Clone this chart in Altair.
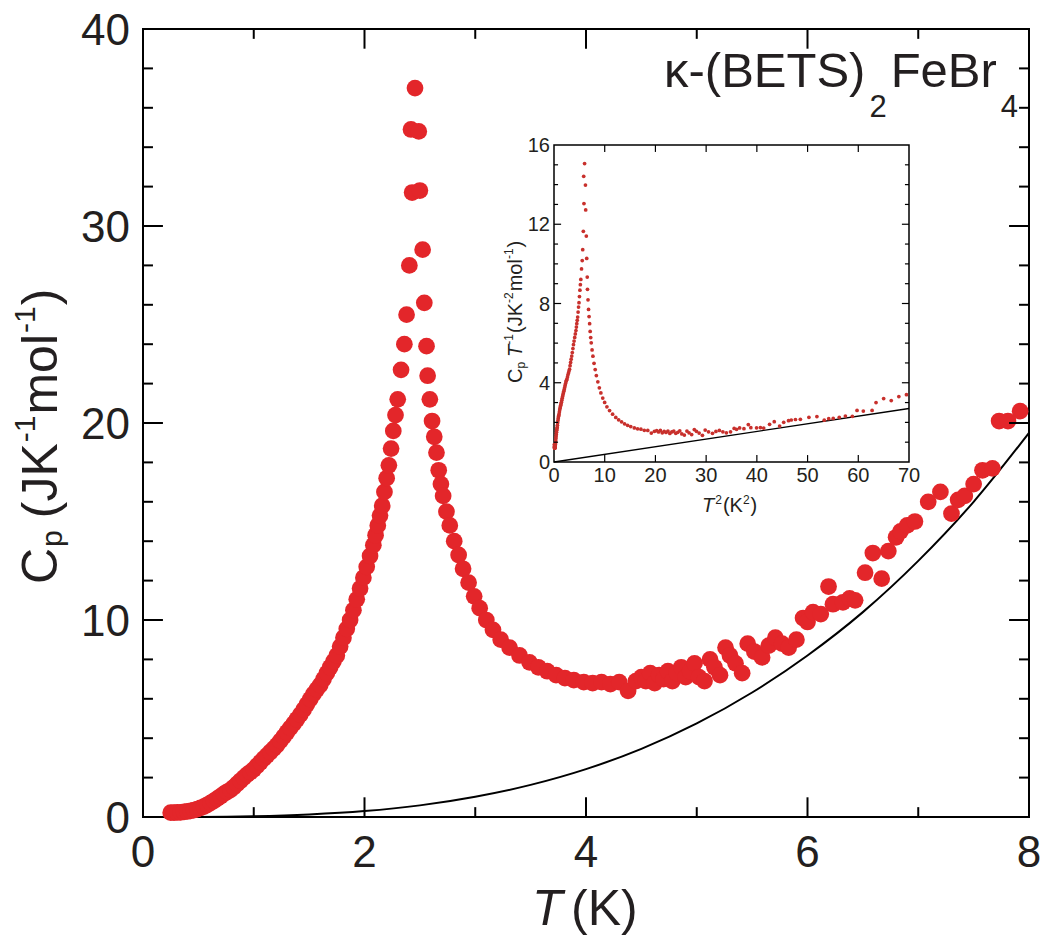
import altair as alt
import pandas as pd

FONT = "Liberation Sans"
TXT = "#231f20"
RED = "#e3262a"
IRED = "#c8302c"

W, H = 886, 788      # main plot area
OX, OY = 143, 29     # plot-area origin on the page

# ---------------- main panel data: T (K), Cp (J K^-1 mol^-1) ----------------
T_rise = [0.25, 0.28, 0.31, 0.34, 0.37, 0.40, 0.43, 0.46, 0.49, 0.52, 0.55, 0.58,
          0.61, 0.64, 0.67, 0.70, 0.73, 0.76, 0.79, 0.82, 0.85, 0.88, 0.91, 0.94,
          0.97, 1.00, 1.03, 1.06, 1.09, 1.12, 1.15, 1.18, 1.21, 1.24, 1.27, 1.30,
          1.33, 1.36, 1.39, 1.42, 1.45, 1.48, 1.51, 1.54, 1.57, 1.60, 1.63, 1.66,
          1.69, 1.72, 1.75, 1.78, 1.81, 1.84, 1.87, 1.90, 1.93, 1.96, 1.99, 2.02,
          2.05, 2.08, 2.10, 2.12, 2.14, 2.16, 2.18, 2.20, 2.22, 2.24, 2.26, 2.28, 2.30]
Cp_rise = [0.22, 0.22, 0.23, 0.24, 0.26, 0.28, 0.31, 0.35, 0.40, 0.46, 0.53, 0.62,
           0.72, 0.82, 0.93, 1.05, 1.17, 1.28, 1.38, 1.52, 1.68, 1.84, 2.00, 2.15,
           2.28, 2.42, 2.60, 2.78, 2.96, 3.13, 3.30, 3.47, 3.65, 3.86, 4.08, 4.30,
           4.52, 4.74, 4.96, 5.20, 5.45, 5.72, 5.98, 6.25, 6.48, 6.70, 7.00, 7.30,
           7.60, 7.90, 8.20, 8.65, 9.10, 9.55, 10.0, 10.5, 11.05, 11.6, 12.15, 12.7,
           13.25, 13.8, 14.3, 14.8, 15.3, 15.8, 16.5, 17.2, 17.85, 18.7, 19.6, 20.4, 21.2]

T_peak = [2.33, 2.36, 2.38, 2.405, 2.43, 2.42, 2.456, 2.49, 2.50, 2.525, 2.54, 2.56, 2.57, 2.59]
Cp_peak = [22.7, 24.0, 25.5, 28.0, 31.7, 34.9, 37.0, 34.8, 31.8, 28.8, 26.1, 23.9, 22.4, 21.2]

T_fall = [2.61, 2.63, 2.65, 2.67, 2.69, 2.71, 2.74, 2.77, 2.81, 2.85, 2.89, 2.94,
          2.99, 3.04, 3.10, 3.16, 3.23, 3.31, 3.40, 3.49, 3.57, 3.65, 3.73, 3.81,
          3.89, 3.98, 4.06, 4.14, 4.22, 4.30, 4.38, 4.45, 4.50]
Cp_fall = [20.1, 19.3, 18.5, 17.6, 16.9, 16.3, 15.5, 14.8, 14.0, 13.3, 12.6, 11.9,
           11.2, 10.6, 10.0, 9.5, 9.0, 8.6, 8.2, 7.85, 7.6, 7.4, 7.2, 7.05,
           6.95, 6.85, 6.8, 6.85, 6.75, 6.85, 6.4, 6.9, 7.1]

T_high = [4.54, 4.58, 4.62, 4.66, 4.70, 4.74, 4.78, 4.82, 4.86, 4.90, 4.94, 4.98,
          5.02, 5.07, 5.12, 5.16, 5.21, 5.26, 5.30, 5.35, 5.41, 5.46, 5.52, 5.59,
          5.65, 5.71, 5.77, 5.83, 5.90, 5.96, 6.00, 6.05, 6.12, 6.19, 6.23, 6.32,
          6.38, 6.43, 6.52, 6.59, 6.67, 6.73, 6.80, 6.84, 6.90, 6.97, 7.09, 7.20,
          7.30, 7.36, 7.42, 7.50, 7.58, 7.67, 7.73, 7.81, 7.92]
Cp_high = [6.9, 7.3, 6.8, 7.2, 7.0, 7.4, 6.9, 7.3, 7.6, 7.1, 7.4, 7.8,
           7.1, 6.9, 8.0, 7.6, 7.2, 8.6, 8.2, 7.8, 7.3, 8.8, 8.4, 8.1,
           8.7, 9.1, 8.8, 8.6, 9.0, 10.1, 9.9, 10.4, 10.3, 11.7, 10.8, 10.9,
           11.1, 11.0, 12.4, 13.4, 12.1, 13.5, 14.2, 14.5, 14.8, 15.0, 16.0, 16.5,
           15.4, 16.1, 16.3, 16.9, 17.6, 17.7, 20.1, 20.1, 20.6]

# black lattice curve
T_fit = [0, 0.5, 1, 1.5, 2, 2.5, 3, 3.5, 4, 4.5, 5, 5.5, 6, 6.5, 7, 7.5, 8]
Cp_fit = [0, 0.005, 0.04, 0.13, 0.30, 0.59, 1.03, 1.63, 2.43, 3.46, 4.75, 6.32,
          8.2, 10.4, 13.0, 16.0, 19.5]

# ---------------- inset: Cp/T vs T^2 ----------------
T2_extra = [63.5, 65.0, 66.5, 68.0, 69.5]
CpT_extra = [3.0, 3.2, 3.1, 3.3, 3.4]
T2_fit = [0, 70]
CpT_fit = [0, 2.7]

# tick values
main_x_labels = [0, 2, 4, 6, 8]
main_y_labels = [0, 10, 20, 30, 40]
main_x_major = [2, 4, 6]
main_x_minor = [1, 3, 5, 7]
main_y_major = [10, 20, 30]
main_y_minor = [2, 4, 6, 8, 12, 14, 16, 18, 22, 24, 26, 28, 32, 34, 36, 38]
inset_x_labels = [0, 10, 20, 30, 40, 50, 60, 70]
inset_x_marks = [10, 20, 30, 40, 50, 60]
inset_y_labels = [0, 4, 8, 12, 16]
inset_y_major = [4, 8, 12]
inset_y_minor = [1, 2, 3, 5, 6, 7, 9, 10, 11, 13, 14, 15]

main_df = pd.DataFrame({"T": T_rise + T_peak + T_fall + T_high,
                        "Cp": Cp_rise + Cp_peak + Cp_fall + Cp_high})
fit_df = pd.DataFrame({"T": T_fit, "Cp": Cp_fit})
ifit_df = pd.DataFrame({"T2": T2_fit, "CpT": CpT_fit})
iextra_df = pd.DataFrame({"T2": T2_extra, "CpT": CpT_extra})
one = pd.DataFrame({"k": [0]})

# ---------------- scales ----------------
mxs = alt.Scale(domain=[0, 8], nice=False, zero=False)
mys = alt.Scale(domain=[0, 40], nice=False, zero=False)
ixs = alt.Scale(domain=[0, 70], range=[411, 766], nice=False, zero=False)
iys = alt.Scale(domain=[0, 16], range=[433, 116], nice=False, zero=False)


def xticks(vals, y0, y1, xs, ys, sw):
    return alt.Chart(pd.DataFrame({"v": vals})).mark_rule(color="black", strokeWidth=sw).encode(
        x=alt.X("v:Q", scale=xs, axis=None),
        y=alt.YDatum(y0, scale=ys, axis=None),
        y2=alt.Y2Datum(y1))


def yticks(vals, x0, x1, xs, ys, sw):
    return alt.Chart(pd.DataFrame({"v": vals})).mark_rule(color="black", strokeWidth=sw).encode(
        y=alt.Y("v:Q", scale=ys, axis=None),
        x=alt.XDatum(x0, scale=xs, axis=None),
        x2=alt.X2Datum(x1))


def xlabels(vals, y0, xs, ys, size, dy):
    return alt.Chart(pd.DataFrame({"v": vals})).mark_text(
        font=FONT, fontSize=size, color=TXT, align="center", baseline="alphabetic", dy=dy
    ).encode(x=alt.X("v:Q", scale=xs, axis=None), y=alt.YDatum(y0, scale=ys, axis=None),
             text=alt.Text("v:Q", format="d"))


def ylabels(vals, x0, xs, ys, size, dx, dy):
    return alt.Chart(pd.DataFrame({"v": vals})).mark_text(
        font=FONT, fontSize=size, color=TXT, align="right", baseline="alphabetic", dx=dx, dy=dy
    ).encode(y=alt.Y("v:Q", scale=ys, axis=None), x=alt.XDatum(x0, scale=xs, axis=None),
             text=alt.Text("v:Q", format="d"))


def piece(txt, x, y, size, style="normal", angle=0):
    return alt.Chart(one).mark_text(text=txt, font=FONT, fontSize=size, fontStyle=style,
                                    align="left", baseline="alphabetic", angle=angle,
                                    color=TXT).encode(x=alt.value(x - OX), y=alt.value(y - OY))


WID = {"C": 722, "p": 556, "(": 333, ")": 333, "J": 500, "K": 667, "m": 833,
       "o": 556, "l": 222, "-": 333, "1": 556, "2": 556, "4": 556, "T": 611,
       "F": 611, "e": 556, "B": 667, "r": 333, "E": 667, "S": 667, "\u03ba": 500}


def run(parts, x0, y0, rotate):
    """parts: (text, size, style, baseline shift, gap before)"""
    out = []
    cum = 0.0
    for txt, size, style, shift, gap in parts:
        cum += gap
        w = sum(WID.get(c, 556) for c in txt) * size / 1000.0
        if rotate:
            out.append(piece(txt, x0 + shift, y0 - cum, size, style, 270))
        else:
            out.append(piece(txt, x0 + cum, y0 + shift, size, style, 0))
        cum += w
    return out


# ---------------- main layers ----------------
line = alt.Chart(fit_df).mark_line(color="black", strokeWidth=2, interpolate="monotone").encode(
    x=alt.X("T:Q", scale=mxs, axis=None), y=alt.Y("Cp:Q", scale=mys, axis=None))
pts = alt.Chart(main_df).mark_circle(size=280, color=RED, opacity=1).encode(
    x=alt.X("T:Q", scale=mxs, axis=None), y=alt.Y("Cp:Q", scale=mys, axis=None))

mticks = [
    xticks(main_x_major, 0, 1.0, mxs, mys, 2), xticks(main_x_minor, 0, 0.5, mxs, mys, 2),
    xticks(main_x_major, 40, 39.0, mxs, mys, 2), xticks(main_x_minor, 40, 39.5, mxs, mys, 2),
    yticks(main_y_major, 0, 0.18, mxs, mys, 2), yticks(main_y_minor, 0, 0.09, mxs, mys, 2),
    yticks(main_y_major, 8, 7.82, mxs, mys, 2), yticks(main_y_minor, 8, 7.91, mxs, mys, 2),
    xlabels(main_x_labels, 0, mxs, mys, 44, 50),
    ylabels(main_y_labels, 0, mxs, mys, 44, -13, 16),
]

texts = []
# x title  T (K)
texts.append(piece("T", 532, 925, 50, "italic"))
texts.append(piece("(K)", 571, 925, 50))
# y title  Cp (JK-1mol-1)
texts += run([("C", 50, "normal", 0, 0), ("p", 30, "normal", 5, 1), ("(JK", 50, "normal", 0, 12),
              ("-1", 30, "normal", -22, 1), ("mol", 50, "normal", 0, 1),
              ("-1", 30, "normal", -22, 1), (")", 50, "normal", 0, 1)], 57, 584, True)
# compound label  kappa-(BETS)2FeBr4
texts += run([("\u03ba-(BETS)", 49, "normal", 0, 0), ("2", 31, "normal", 30, 4),
              ("FeBr", 49, "normal", 0, 4), ("4", 31, "normal", 30, 4)], 664, 87, False)
# inset titles
texts += run([("C", 20, "normal", 0, 0), ("p", 12, "normal", 3, 0), ("T", 20, "italic", 0, 5),
              ("-1", 12, "normal", -9, 0), ("(JK", 20, "normal", 0, 1),
              ("-2", 12, "normal", -9, 0), ("mol", 20, "normal", 0, 1),
              ("-1", 12, "normal", -9, 0), (")", 20, "normal", 0, 1)], 522, 383, True)
texts += run([("T", 20, "italic", 0, 0), ("2", 12, "normal", -8, 1), ("(K", 20, "normal", 0, 1),
              ("2", 12, "normal", -8, 0), (")", 20, "normal", 0, 1)], 702, 512, False)

main = alt.layer(line, pts, *mticks, *texts)

# ---------------- inset layers ----------------
frame = alt.Chart(one).mark_rect(fill="white", stroke="black", strokeWidth=1.5).encode(
    x=alt.XDatum(0, scale=ixs, axis=None), x2=alt.X2Datum(70),
    y=alt.YDatum(0, scale=iys, axis=None), y2=alt.Y2Datum(16))
ifit = alt.Chart(ifit_df).mark_line(color="black", strokeWidth=1.3).encode(
    x=alt.X("T2:Q", scale=ixs, axis=None), y=alt.Y("CpT:Q", scale=iys, axis=None))
ipts = alt.Chart(main_df).transform_calculate(
    T2="datum.T * datum.T", CpT="datum.Cp / datum.T"
).mark_circle(size=14, color=IRED, opacity=1).encode(
    x=alt.X("T2:Q", scale=ixs, axis=None), y=alt.Y("CpT:Q", scale=iys, axis=None))
iext = alt.Chart(iextra_df).mark_circle(size=14, color=IRED, opacity=1).encode(
    x=alt.X("T2:Q", scale=ixs, axis=None), y=alt.Y("CpT:Q", scale=iys, axis=None))
iticks = [
    xticks(inset_x_marks, 0, 0.35, ixs, iys, 1.2), xticks(inset_x_marks, 16, 15.65, ixs, iys, 1.2),
    yticks(inset_y_major, 0, 1.4, ixs, iys, 1.2), yticks(inset_y_minor, 0, 0.8, ixs, iys, 1.2),
    yticks(inset_y_major, 70, 68.6, ixs, iys, 1.2), yticks(inset_y_minor, 70, 69.2, ixs, iys, 1.2),
    xlabels(inset_x_labels, 0, ixs, iys, 20, 20),
    ylabels(inset_y_labels, 0, ixs, iys, 20, -4, 7),
]
inset = alt.layer(frame, ifit, ipts, iext, *iticks)

chart = alt.layer(main, inset).resolve_scale(x="independent", y="independent").properties(
    width=W, height=H,
    autosize=alt.AutoSizeParams(type="none"),
    padding={"left": OX, "top": OY, "right": 1042 - OX - W, "bottom": 937 - OY - H},
    background="white",
).configure_view(stroke="black", strokeWidth=2)

chart.save("out.html", embed_options={"renderer": "svg", "actions": False})
